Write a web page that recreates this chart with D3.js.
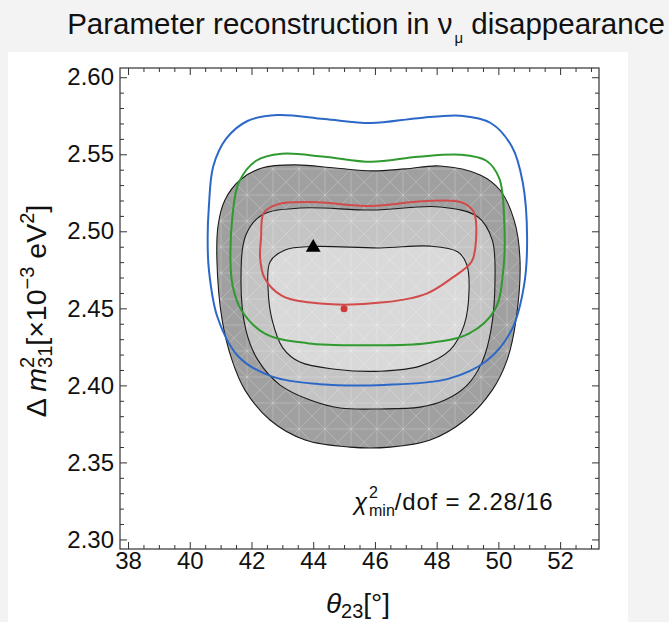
<!DOCTYPE html>
<html><head><meta charset="utf-8">
<script src="https://cdn.jsdelivr.net/npm/d3@7"></script>
<style>
html,body{margin:0;padding:0;background:#f3f3f3;}
svg{display:block;font-family:"Liberation Sans",Arial,Helvetica,sans-serif;}
</style></head>
<body>
<svg id="chart" width="669" height="622"></svg>
<script>
// ---- data (theta23 in degrees, dm31^2 in 1e-3 eV^2) ----
const xTicks = [38, 40, 42, 44, 46, 48, 50, 52];
const yTicks = [2.30, 2.35, 2.40, 2.45, 2.50, 2.55, 2.60];
const xDomain = [37.74, 53.26];
const yDomain = [2.2938, 2.606];

const grayOuter = [[40.92,2.5041],[41.14,2.5203],[41.63,2.5333],[42.34,2.5411],[43.41,2.5431],[44.71,2.5411],[45.91,2.5392],[46.98,2.5405],[48.11,2.5424],[49.41,2.5366],[50.05,2.5268],[50.51,2.5073],[50.70,2.4814],[50.57,2.4424],[50.28,2.4164],[49.80,2.3969],[48.92,2.3775],[47.79,2.3645],[46.49,2.3599],[45.19,2.3599],[43.74,2.3645],[42.60,2.3775],[41.79,2.3969],[41.37,2.4164],[41.05,2.4424],[40.88,2.4814]];
const grayMiddle = [[41.82,2.4976],[42.34,2.5106],[43.57,2.5151],[45.91,2.5138],[48.11,2.5158],[49.34,2.5093],[49.80,2.4944],[49.89,2.4684],[49.76,2.4359],[49.47,2.4151],[48.99,2.4002],[48.27,2.3905],[47.46,2.3859],[46.17,2.3847],[44.87,2.3853],[43.90,2.3905],[42.93,2.4002],[42.21,2.4164],[41.82,2.4359],[41.66,2.4684]];
const grayInner = [[42.60,2.4801],[43.09,2.4879],[43.99,2.4901],[46.17,2.4892],[47.79,2.4904],[48.69,2.4866],[48.98,2.4781],[49.05,2.4619],[48.89,2.4391],[48.43,2.4229],[47.46,2.4125],[46.17,2.4092],[44.71,2.4105],[43.57,2.4151],[43.02,2.4242],[42.67,2.4424],[42.54,2.4619]];
const blueContour = [[40.76,2.5420],[41.18,2.5601],[41.87,2.5716],[42.84,2.5755],[44.36,2.5729],[45.88,2.5703],[47.40,2.5734],[48.78,2.5750],[49.75,2.5703],[50.44,2.5549],[50.79,2.5317],[50.93,2.4956],[50.83,2.4647],[50.44,2.4364],[49.61,2.4158],[48.37,2.4042],[46.29,2.4003],[44.22,2.4008],[42.70,2.4055],[41.59,2.4184],[40.90,2.4442],[40.62,2.4751],[40.58,2.4956],[40.62,2.5162]];
const greenContour = [[41.39,2.5111],[41.59,2.5317],[42.15,2.5458],[42.98,2.5503],[44.36,2.5484],[45.88,2.5451],[47.40,2.5484],[48.78,2.5497],[49.61,2.5458],[50.03,2.5343],[50.19,2.5060],[50.16,2.4751],[49.89,2.4493],[49.06,2.4338],[47.68,2.4274],[45.88,2.4261],[43.81,2.4274],[42.42,2.4338],[41.66,2.4493],[41.39,2.4647],[41.32,2.4802]];
const redContour = [[42.40,2.5120],[42.84,2.5175],[43.94,2.5190],[45.88,2.5165],[47.54,2.5195],[48.78,2.5190],[49.20,2.5125],[49.27,2.4930],[49.13,2.4802],[48.51,2.4699],[47.68,2.4596],[46.29,2.4539],[44.22,2.4531],[42.98,2.4583],[42.42,2.4699],[42.28,2.4828],[42.31,2.4956]];
const trueOscPoint = [44.0, 2.4895];
const bestFitPoint = [45.0, 2.4498];
const chiText = ["2.28", "16"];

// ---- layout ----
const svg = d3.select("#chart");
const L = 120, R = 599, T = 68, B = 549;
const x = d3.scaleLinear().domain(xDomain).range([L, R]);
const y = d3.scaleLinear().domain(yDomain).range([B, T]);

svg.append("rect").attr("x", 8).attr("y", 52).attr("width", 620).attr("height", 570).attr("fill", "#ffffff");

// title
const title = svg.append("text").attr("x", 366).attr("y", 34).attr("text-anchor", "middle")
  .attr("font-size", 29.5).attr("fill", "#111");
title.append("tspan").text("Parameter reconstruction in ν");
title.append("tspan").attr("font-size", 15).attr("dy", 9).attr("dx", 2).text("μ");
title.append("tspan").attr("dy", -9).text(" disappearance");

// pattern (mesh texture)
const defs = svg.append("defs");
const pat = defs.append("pattern").attr("id", "mesh").attr("patternUnits", "userSpaceOnUse")
  .attr("width", 26).attr("height", 26);
pat.append("path").attr("d", "M0,0L26,26M26,0L0,26M13,0V26M0,13H26")
  .attr("stroke", "#ffffff").attr("stroke-width", 0.7).attr("opacity", 0.3).attr("fill", "none");

const line = d3.line().x(d => x(d[0])).y(d => y(d[1])).curve(d3.curveCatmullRomClosed.alpha(0.5));

const regions = [
  {data: grayOuter, fill: "#a0a0a0"},
  {data: grayMiddle, fill: "#c4c4c4"},
  {data: grayInner, fill: "#d9d9d9"}
];
const gReg = svg.append("g");
regions.forEach(r => {
  gReg.append("path").attr("d", line(r.data)).attr("fill", r.fill).attr("stroke", "none");
  gReg.append("path").attr("d", line(r.data)).attr("fill", "url(#mesh)").attr("stroke", "none");
});
regions.forEach(r => {
  gReg.append("path").attr("d", line(r.data)).attr("fill", "none").attr("stroke", "#1a1a1a").attr("stroke-width", 1.1);
});

const lines = [
  {data: redContour, color: "#d24a4a"},
  {data: greenContour, color: "#2f9a2f"},
  {data: blueContour, color: "#2c68c8"}
];
lines.forEach(l => {
  svg.append("path").attr("d", line(l.data)).attr("fill", "none").attr("stroke", l.color).attr("stroke-width", 2);
});

// markers
svg.append("path").attr("d", d3.symbol().type(d3.symbolTriangle).size(95)())
  .attr("transform", `translate(${x(trueOscPoint[0])},${y(trueOscPoint[1])})`).attr("fill", "#000");
svg.append("circle").attr("cx", x(bestFitPoint[0])).attr("cy", y(bestFitPoint[1])).attr("r", 3.5).attr("fill", "#d03a3a");

// frame and ticks
const minorX = d3.range(38, 53.01, 0.5).filter(v => Math.abs(v / 2 - Math.round(v / 2)) > 1e-6);
const minorY = d3.range(2.30, 2.6001, 0.01).filter(v => Math.abs(v / 0.05 - Math.round(v / 0.05)) > 1e-4);
const tickCol = "#333";
function addAxis(axisFn, scale, vals, len, tr, labels) {
  const g = svg.append("g").attr("transform", tr)
    .call(axisFn(scale).tickValues(vals).tickSize(-len).tickSizeOuter(0).tickFormat(labels ? (labels) : ""));
  g.select(".domain").remove();
  g.selectAll(".tick line").attr("stroke", tickCol).attr("stroke-width", 1);
  return g;
}
const gxb = addAxis(d3.axisBottom, x, xTicks, 7, `translate(0,${B})`, d => d3.format("d")(d));
gxb.selectAll(".tick text").attr("font-size", 24).attr("fill", "#111").attr("font-family", "Liberation Sans, Arial, sans-serif").attr("y", 3).attr("dy", "0.71em");
addAxis(d3.axisBottom, x, minorX, 4, `translate(0,${B})`, null);
addAxis(d3.axisTop, x, xTicks, 7, `translate(0,${T})`, null);
addAxis(d3.axisTop, x, minorX, 4, `translate(0,${T})`, null);
const gyl = addAxis(d3.axisLeft, y, yTicks, 7, `translate(${L},0)`, d => d3.format(".2f")(d));
gyl.selectAll(".tick text").attr("font-size", 24).attr("fill", "#111").attr("font-family", "Liberation Sans, Arial, sans-serif").attr("x", -6);
addAxis(d3.axisLeft, y, minorY, 4, `translate(${L},0)`, null);
addAxis(d3.axisRight, y, yTicks, 7, `translate(${R},0)`, null);
addAxis(d3.axisRight, y, minorY, 4, `translate(${R},0)`, null);
svg.append("rect").attr("x", L).attr("y", T).attr("width", R - L).attr("height", B - T)
  .attr("fill", "none").attr("stroke", "#333").attr("stroke-width", 1.2);

// chi2 label
const chi = svg.append("text").attr("x", 354).attr("y", 510).attr("font-size", 24).attr("fill", "#111");
chi.append("tspan").attr("font-style", "italic").text("χ");
chi.append("tspan").attr("font-size", 16).attr("dy", -12).attr("dx", 2).text("2");
chi.append("tspan").attr("font-size", 16).attr("dy", 18).attr("dx", -9).text("min");
chi.append("tspan").attr("dy", -6).attr("letter-spacing", 0.8).text(`/dof = ${chiText[0]}/${chiText[1]}`);

// x axis title
const xt = svg.append("text").attr("x", 358).attr("y", 613).attr("text-anchor", "middle").attr("font-size", 28).attr("fill", "#111");
xt.append("tspan").attr("font-style", "italic").text("θ");
xt.append("tspan").attr("font-size", 20).attr("dy", 5).text("23");
xt.append("tspan").attr("dy", -5).text("[°]");

// y axis title
const yt = svg.append("text").attr("transform", "translate(46,311) rotate(-90)").attr("text-anchor", "middle")
  .attr("font-size", 28.5).attr("fill", "#111");
yt.append("tspan").text("Δ ");
yt.append("tspan").attr("font-style", "italic").text("m");
yt.append("tspan").attr("font-size", 20).attr("dy", -12).text("2");
yt.append("tspan").attr("font-size", 20).attr("dy", 18).attr("dx", -11).text("31");
yt.append("tspan").attr("dy", -6).text("[×10");
yt.append("tspan").attr("font-size", 20).attr("dy", -12).text("−3");
yt.append("tspan").attr("dy", 12).text(" eV");
yt.append("tspan").attr("font-size", 20).attr("dy", -12).text("2");
yt.append("tspan").attr("dy", 12).text("]");
</script>
</body></html>
